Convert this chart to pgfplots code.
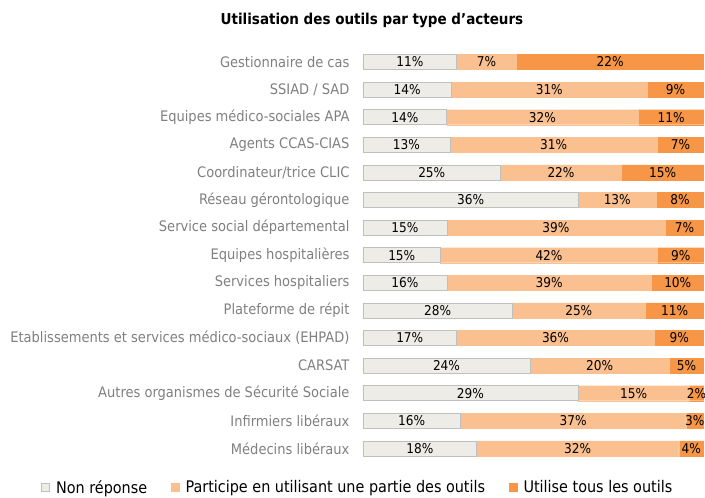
\documentclass[border=0pt]{standalone}
\usepackage{fontspec}
\setmainfont{DejaVu Sans Condensed}
\usepackage{pgfplots}
\usepackage{pgfplotstable}
\pgfplotsset{compat=1.18}
\definecolor{cNR}{HTML}{EEECE6}
\definecolor{cP}{HTML}{FAC090}
\definecolor{cU}{HTML}{F79646}
\definecolor{lab}{HTML}{7F7F7F}

\pgfplotstableread[col sep=comma]{
label,n,p,u
Gestionnaire de cas,11,7,22
SSIAD / SAD,14,31,9
Equipes médico-sociales APA,14,32,11
Agents CCAS-CIAS,13,31,7
Coordinateur/trice CLIC,25,22,15
Réseau gérontologique,36,13,8
Service social départemental,15,39,7
Equipes hospitalières,15,42,9
Services hospitaliers,16,39,10
Plateforme de répit,28,25,11
Etablissements et services médico-sociaux (EHPAD),17,36,9
CARSAT,24,20,5
Autres organismes de Sécurité Sociale,29,15,2
Infirmiers libéraux,16,37,3
Médecins libéraux,18,32,4
}\data
% bars are drawn as shares of each row's total (100% stacked)
\pgfplotstablecreatecol[create col/expr={\thisrow{n}+\thisrow{p}+\thisrow{u}}]{tot}\data
\pgfplotstablecreatecol[create col/expr={100*\thisrow{n}/\thisrow{tot}}]{nn}\data
\pgfplotstablecreatecol[create col/expr={100*\thisrow{p}/\thisrow{tot}}]{pp}\data
\pgfplotstablecreatecol[create col/expr={100*\thisrow{u}/\thisrow{tot}}]{uu}\data
\pgfplotstablecreatecol[create col/expr={\thisrow{nn}/2}]{mn}\data
\pgfplotstablecreatecol[create col/expr={\thisrow{nn}+\thisrow{pp}/2}]{mp}\data
\pgfplotstablecreatecol[create col/expr={\thisrow{nn}+\thisrow{pp}+\thisrow{uu}/2}]{mu}\data

\begin{document}
\begin{tikzpicture}
\useasboundingbox (0,0) rectangle (705pt,498pt);
\node[font=\bfseries\fontsize{15}{17}\selectfont] at (372pt,478pt) {Utilisation des outils par type d’acteurs};
\begin{axis}[
  at={(363pt,35.8pt)}, anchor=south west,
  scale only axis, width=341pt, height=414pt,
  xbar stacked, bar width=15pt,
  xmin=0, xmax=100, ymin=-0.5, ymax=14.5, y dir=reverse,
  axis line style={draw=none},
  major tick length=0pt,
  xtick=\empty,
  ytick={0,...,14},
  yticklabels from table={\data}{label},
  yticklabel style={font=\fontsize{14.5}{16}\selectfont, text=lab, xshift=-10pt},
  legend style={at={(-0.015,-0.0615)}, anchor=center, legend columns=3, draw=none,
    font=\fontsize{16}{18}\selectfont, inner sep=0pt,
    /tikz/every odd column/.append style={column sep=4pt},
    /tikz/every even column/.append style={column sep=22pt}},
  legend cell align=left,
  legend image code/.code={\draw[#1] (0pt,-4pt) rectangle (8pt,4pt);},
]
\addplot[fill=cNR, draw=black!25, line width=0.6pt] table[x=nn, y expr=\coordindex] {\data};
\addlegendentry{Non réponse}
\addplot[fill=cP, draw=cP] table[x=pp, y expr=\coordindex] {\data};
\addlegendentry{Participe en utilisant une partie des outils}
\addplot[fill=cU, draw=cU] table[x=uu, y expr=\coordindex] {\data};
\addlegendentry{Utilise tous les outils}
\end{axis}
\begin{axis}[
  at={(363pt,35.8pt)}, anchor=south west,
  scale only axis, width=341pt, height=414pt,
  xmin=0, xmax=100, ymin=-0.5, ymax=14.5, y dir=reverse,
  hide axis,
  nodes near coords={\pgfplotspointmeta\%},
  point meta=explicit symbolic,
  every node near coord/.style={anchor=center, text=black, font=\fontsize{13.5}{15}\selectfont},
]
\addplot[only marks, mark=*, mark size=0pt] table[x=mn, y expr=\coordindex, meta=n] {\data};
\addplot[only marks, mark=*, mark size=0pt] table[x=mp, y expr=\coordindex, meta=p] {\data};
\addplot[only marks, mark=*, mark size=0pt] table[x=mu, y expr=\coordindex, meta=u] {\data};
\end{axis}
\end{tikzpicture}
\end{document}
